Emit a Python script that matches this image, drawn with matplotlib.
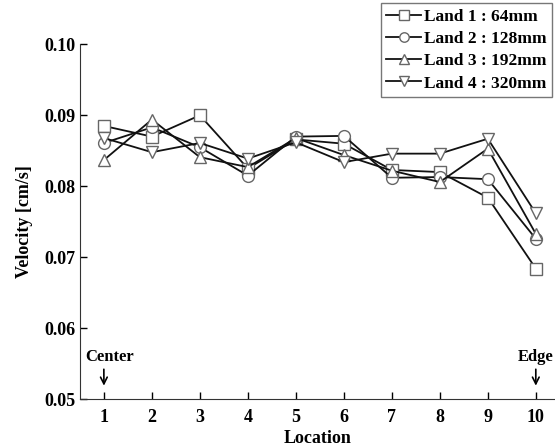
import numpy as np
import matplotlib.pyplot as plt

plt.rcParams['font.family'] = 'Liberation Serif'
plt.rcParams['font.weight'] = 'bold'

location = [1, 2, 3, 4, 5, 6, 7, 8, 9, 10]
land1 = [0.0885, 0.0870, 0.0900, 0.0825, 0.0866, 0.0860, 0.0823, 0.0820, 0.0784, 0.0684]
land2 = [0.0861, 0.0883, 0.0855, 0.0815, 0.0870, 0.0871, 0.0812, 0.0813, 0.0810, 0.0726]
land3 = [0.0837, 0.0894, 0.0841, 0.0827, 0.0868, 0.0844, 0.0822, 0.0806, 0.0853, 0.0733]
land4 = [0.0868, 0.0848, 0.0861, 0.0839, 0.0862, 0.0834, 0.0846, 0.0846, 0.0867, 0.0762]
labels = ['Land 1 : 64mm', 'Land 2 : 128mm', 'Land 3 : 192mm', 'Land 4 : 320mm']
markers = ['s', 'o', '^', 'v']

fig = plt.figure(figsize=(5.55, 4.48), dpi=100)
ax = fig.add_axes([0.144, 0.109, 0.856, 0.792])

for ys, mk, lb in zip([land1, land2, land3, land4], markers, labels):
    ax.plot(location, ys, color='#111111', lw=1.3, marker=mk, markersize=8.5,
            markerfacecolor='white', markeredgecolor='#666666', markeredgewidth=1.0,
            label=lb)

ax.set_xlim(0.5, 10.4)
ax.set_ylim(0.05, 0.10)
ax.set_xticks(location)
ax.set_yticks([0.05, 0.06, 0.07, 0.08, 0.09, 0.10])
ax.set_yticklabels(['0.05', '0.06', '0.07', '0.08', '0.09', '0.10'])
ax.tick_params(direction='in', labelsize=13, length=5, width=1)
ax.tick_params(axis='x', pad=7)
for lab in ax.get_xticklabels() + ax.get_yticklabels():
    lab.set_fontweight('bold')
ax.spines['top'].set_visible(False)
ax.spines['right'].set_visible(False)
ax.spines['left'].set_color('#333333')
ax.spines['bottom'].set_color('#333333')

ax.set_xlabel('Location', fontsize=13, fontweight='bold', labelpad=3)
ax.set_ylabel('Velocity [cm/s]', fontsize=13, fontweight='bold', labelpad=8)

ax.annotate('Center', xy=(1, 0.0519), xytext=(1.12, 0.0548), ha='center', va='bottom',
            fontsize=12, fontweight='bold',
            arrowprops=dict(arrowstyle='->', color='black', lw=1.2,
                            shrinkA=1, shrinkB=0, relpos=(0.38, 0)))
ax.annotate('Edge', xy=(10, 0.0519), xytext=(10, 0.0548), ha='center', va='bottom',
            fontsize=12, fontweight='bold',
            arrowprops=dict(arrowstyle='->', color='black', lw=1.2,
                            shrinkA=1, shrinkB=0))

leg = ax.legend(loc='upper right', bbox_to_anchor=(1.0, 1.125), fontsize=12.5,
                frameon=True, fancybox=False, edgecolor='#555555',
                handlelength=2.0, handletextpad=0.15, borderpad=0.3,
                labelspacing=0.35, borderaxespad=0.2, markerscale=0.8)
leg.get_frame().set_linewidth(1.0)
for t in leg.get_texts():
    t.set_fontweight('bold')

fig.savefig('out.png', dpi=100)
